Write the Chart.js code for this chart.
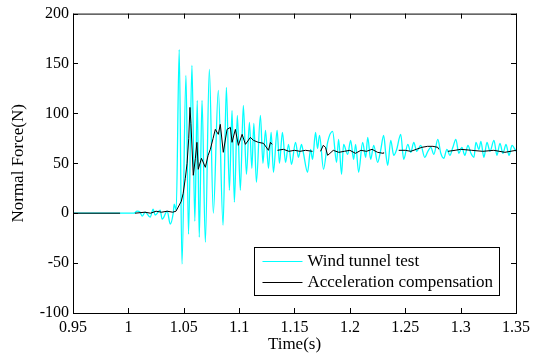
<!DOCTYPE html>
<html>
<head>
<meta charset="utf-8">
<script src="https://cdn.jsdelivr.net/npm/chart.js@4/dist/chart.umd.min.js"></script>
<style>
  body { margin: 0; background: #fff; }
  canvas { display: block; }
</style>
</head>
<body>
<canvas id="myChart" width="542" height="356"></canvas>
<script>
// tick labels
var xTicks = [0.95, 1, 1.05, 1.1, 1.15, 1.2, 1.25, 1.3, 1.35];
var yTicks = [-100, -50, 0, 50, 100, 150, 200];

// Wind tunnel test (cyan)
var windTime = [0.95, 1.005, 1.0079, 1.0106, 1.0124, 1.0152, 1.0197, 1.0224, 1.0242, 1.0287,
    1.0305, 1.0351, 1.0378, 1.0405, 1.0414, 1.0432, 1.0459, 1.0484, 1.052, 1.0543,
    1.0574, 1.060, 1.0622, 1.064, 1.0665, 1.0695, 1.0731, 1.0767, 1.0812, 1.0855,
    1.0885, 1.0912, 1.0936, 1.0957, 1.0984, 1.1011, 1.1038, 1.1066, 1.1093, 1.1115,
    1.1133, 1.1156, 1.1192, 1.1215, 1.1238, 1.1265, 1.1289, 1.131, 1.1343, 1.1364,
    1.1391, 1.1419, 1.1446, 1.1473, 1.1509, 1.1536, 1.1563, 1.1581, 1.1618, 1.1645,
    1.1663, 1.1690, 1.1708, 1.1726, 1.1762, 1.1799, 1.1844, 1.1880, 1.1898, 1.1925,
    1.1943, 1.1980, 1.2007, 1.2034, 1.2052, 1.2079, 1.2115, 1.2143, 1.2161, 1.2188,
    1.2215, 1.2251, 1.2278, 1.2305, 1.2324, 1.2342, 1.2369, 1.2396, 1.2423, 1.2459,
    1.2486, 1.2523, 1.2550, 1.2577, 1.2604, 1.2640, 1.2676, 1.2704, 1.2731, 1.2758,
    1.2794, 1.2821, 1.2848, 1.2876, 1.2903, 1.2930, 1.2957, 1.2984, 1.3011, 1.3038,
    1.3066, 1.3093, 1.3120, 1.3138, 1.3165, 1.3183, 1.3210, 1.3238, 1.3265, 1.3301,
    1.3328, 1.3355, 1.3382, 1.3410, 1.3437, 1.3464, 1.35];
var windForce = [0, 0, 2, 1, -3, 1, -4, 4, -2, 3,
    -6, 2, -11, 0, 9, 3, 164, -51, 138, -21,
    148, -8, 113, -24, 113, -29, 144, 0, 123, -12,
    126, 23, 103, 11, 98, 23, 108, 39, 91, 45,
    90, 31, 98, 50, 83, 45, 81, 41, 83, 50,
    81, 51, 69, 49, 71, 56, 69, 60, 41, 64,
    54, 81, 65, 78, 44, 71, 82, 51, 74, 39,
    69, 59, 73, 54, 69, 41, 71, 56, 76, 54,
    68, 51, 63, 78, 60, 48, 73, 58, 64, 79,
    54, 69, 61, 71, 62, 68, 56, 62, 66, 59,
    74, 60, 55, 64, 58, 66, 74, 60, 66, 58,
    68, 60, 56, 71, 64, 72, 56, 71, 62, 73,
    58, 70, 60, 69, 58, 68, 62];

// Acceleration compensation (black), null = gap
var accTime = [0.95, 0.9925, 0.999, 1.006, 1.015, 1.02, 1.025, 1.03, 1.035, 1.04,
    1.043, 1.0478, 1.0495, 1.0514, 1.053, 1.0545, 1.0556, 1.0565, 1.0586, 1.0605,
    1.0619, 1.0631, 1.066, 1.0695, 1.072, 1.074, 1.0765, 1.0785, 1.0812, 1.083,
    1.0857, 1.0891, 1.0921, 1.0936, 1.0966, 1.0993, 1.1027, 1.1057, 1.1102, 1.1129,
    1.1174, 1.122, 1.1265, 1.1283, 1.1298, 1.132, 1.1346, 1.14, 1.145, 1.15,
    1.155, 1.16, 1.1663, 1.17, 1.1735, 1.176, 1.178, 1.1799, 1.182, 1.185,
    1.19, 1.195, 1.20, 1.205, 1.21, 1.215, 1.22, 1.225, 1.23, 1.2305,
    1.237, 1.2441, 1.25, 1.255, 1.26, 1.265, 1.27, 1.275, 1.2794, 1.2803,
    1.284, 1.2885, 1.295, 1.30, 1.31, 1.32, 1.33, 1.34, 1.35];
var accForce = [0, 0, null, 0, 1, 0, 2, 1, 2, 1,
    2, 12, 20, 35, 50, 75, 106, 90, 38, 55,
    71, 44, 55, 46, 58, 64, 75, 84, 79, 89,
    61, 84, 86, 71, 84, 68, 79, 69, 76, 73,
    71, 70, 63, 71, 69, null, 63, 64, 62, 63,
    62, 63, 62, null, 62, 68, 66, 58, 60, 63,
    61, 62, 63, 60, 63, 62, 64, 61, 60, 61,
    null, 63, 63, 62, 64, 66, 67, 67, 66, 64,
    null, 62, 63, 64, 63, 62, 63, 61, 63];

function toPoints(xs, ys) {
    return xs.map(function(x, i) { return {x: x, y: ys[i]}; });
}

var serif = "'Liberation Serif', 'Times New Roman', serif";

// box, inward ticks on all four sides, and the legend inside the plot
var matlabAxes = {
    id: 'matlabAxes',
    afterDraw: function(chart) {
        var ctx = chart.ctx;
        var a = chart.chartArea;
        var xs = chart.scales.x, ys = chart.scales.y;
        ctx.save();
        ctx.strokeStyle = '#000';
        ctx.lineWidth = 1;
        ctx.strokeRect(a.left + 0.5, a.top + 0.5, a.right - a.left, a.bottom - a.top);
        ctx.beginPath();
        xTicks.forEach(function(v) {
            var px = Math.round(xs.getPixelForValue(v)) + 0.5;
            ctx.moveTo(px, a.bottom); ctx.lineTo(px, a.bottom - 5);
            ctx.moveTo(px, a.top); ctx.lineTo(px, a.top + 5);
        });
        yTicks.forEach(function(v) {
            var py = Math.round(ys.getPixelForValue(v)) + 0.5;
            ctx.moveTo(a.left, py); ctx.lineTo(a.left + 5, py);
            ctx.moveTo(a.right, py); ctx.lineTo(a.right - 5, py);
        });
        ctx.stroke();

        // legend
        ctx.font = '17px ' + serif;
        var labels = chart.data.datasets.slice().sort(function(p, q) { return q.order - p.order; });
        var textW = Math.max.apply(null, labels.map(function(d) { return ctx.measureText(d.label).width; }));
        var right = a.right - 17, bottom = a.bottom - 18;
        var left = right - 6 - textW - 5 - 40 - 8;
        var top = bottom - 48;
        ctx.fillStyle = '#fff';
        ctx.fillRect(left, top, right - left, bottom - top);
        ctx.strokeRect(Math.round(left) + 0.5, top + 0.5, Math.round(right - left), bottom - top);
        ctx.textBaseline = 'middle';
        labels.forEach(function(d, i) {
            var y = top + 14 + i * 21;
            ctx.strokeStyle = d.borderColor;
            ctx.beginPath();
            ctx.moveTo(left + 8, y + 0.5); ctx.lineTo(left + 48, y + 0.5);
            ctx.stroke();
            ctx.fillStyle = '#000';
            ctx.fillText(d.label, left + 53, y + 1);
        });
        ctx.restore();
    }
};

var ctx = document.getElementById('myChart');
var myLineChart = new Chart(ctx, {
    type: 'line',
    data: {
        datasets: [{
            label: 'Wind tunnel test',
            data: toPoints(windTime, windForce),
            borderColor: '#00ffff',
            borderWidth: 1.3,
            cubicInterpolationMode: 'monotone',
            order: 1
        }, {
            label: 'Acceleration compensation',
            data: toPoints(accTime, accForce),
            borderColor: '#000000',
            borderWidth: 1,
            order: 0
        }]
    },
    options: {
        responsive: false,
        animation: false,
        devicePixelRatio: 1,
        spanGaps: false,
        elements: { point: { radius: 0 }, line: { tension: 0 } },
        layout: { padding: { left: 0, top: 11, right: 26, bottom: 0 } },
        plugins: { legend: { display: false }, tooltip: { enabled: false } },
        scales: {
            x: {
                type: 'linear',
                min: 0.95,
                max: 1.35,
                afterBuildTicks: function(scale) {
                    scale.ticks = xTicks.map(function(v) { return {value: v}; });
                },
                afterFit: function(scale) { scale.height = 43; },
                grid: { display: false, drawTicks: false },
                border: { display: false },
                ticks: {
                    autoSkip: false,
                    maxRotation: 0,
                    padding: 5,
                    color: '#000',
                    font: { family: serif, size: 16 },
                    callback: function(v) { return String(Number(v.toFixed(2))); }
                },
                title: {
                    display: true,
                    text: 'Time(s)',
                    color: '#000',
                    font: { family: serif, size: 17 },
                    padding: { top: 0, bottom: 1 }
                }
            },
            y: {
                min: -100,
                max: 200,
                afterBuildTicks: function(scale) {
                    scale.ticks = yTicks.map(function(v) { return {value: v}; });
                },
                afterFit: function(scale) { scale.width = 73; },
                grid: { display: false, drawTicks: false },
                border: { display: false },
                ticks: {
                    autoSkip: false,
                    padding: 4,
                    color: '#000',
                    font: { family: serif, size: 16 }
                },
                title: {
                    display: true,
                    text: 'Normal Force(N)',
                    color: '#000',
                    font: { family: serif, size: 17 },
                    padding: { top: 8, bottom: 0 }
                }
            }
        }
    },
    plugins: [matlabAxes]
});
</script>
</body>
</html>
